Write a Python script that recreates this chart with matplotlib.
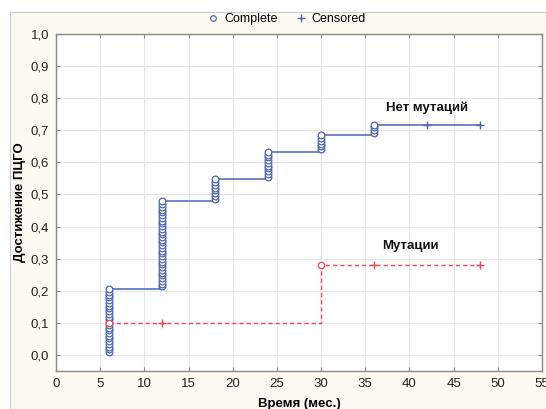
import matplotlib
matplotlib.use('Agg')
import matplotlib.pyplot as plt
import numpy as np
from matplotlib.patches import Rectangle
from matplotlib.lines import Line2D

plt.rcParams['font.family'] = ['Liberation Sans', 'DejaVu Sans']

# ---------------- data ----------------
# group without mutations: cohort size, event times and tied-event counts
nomut_n = 117
nomut_event_times = [6, 12, 18, 24, 30, 36]
nomut_event_counts = [24, 32, 8, 10, 6, 4]
nomut_censor_times = [42, 48]
nomut_label = "Нет мутаций"

# group with mutations: event times, cumulative levels, censored times
mut_event_times = [6, 30]
mut_levels = [0.10, 0.28]
mut_censor_times = [12, 36, 48]
mut_label = "Мутации"

x_ticks = list(range(0, 56, 5))
y_ticks = [round(v * 0.1, 1) for v in range(0, 11)]
x_label = "Время (мес.)"
y_label = "Достижение ПЦГО"
legend_labels = ["Complete", "Censored"]

# --------------- style ----------------
blue = '#4A64B2'
red = '#EE4650'
W, H = 546, 409
fig = plt.figure(figsize=(W / 100, H / 100), dpi=100, facecolor='white')

# cream panel
panel = Rectangle((10 / W, 0), 1 - 10 / W, 1 - 12 / H, transform=fig.transFigure,
                  facecolor='#FEFAF1', edgecolor='#C8CCD6', linewidth=0.8, zorder=-10)
fig.patches.append(panel)

ax = fig.add_axes([56 / W, (H - 371) / H, (542 - 56) / W, (371 - 34) / H])
ax.set_facecolor('white')
ax.set_xlim(0, 55)
ax.set_ylim(-0.05, 1.0)
ax.set_xticks(x_ticks)
ax.set_yticks(y_ticks)
ax.set_yticklabels([f"{v:.1f}".replace('.', ',') for v in y_ticks])
ax.grid(True, color='#E6E6E6', linewidth=0.8)
ax.set_axisbelow(True)
for s in ax.spines.values():
    s.set_color('#8A8A8A')
    s.set_linewidth(1.0)
ax.tick_params(direction='in', length=3, color='#8A8A8A', labelsize=9.5,
               top=True, right=True, labelcolor='#222222', pad=5)

# ---- group without mutations ----
cum = np.cumsum(nomut_event_counts)
nomut_levels = cum / nomut_n
step_x = nomut_event_times + [max(nomut_censor_times)]
step_y = list(nomut_levels) + [nomut_levels[-1]]
ax.step(step_x, step_y, where='post', color=blue, linewidth=1.1, zorder=3)
prev = 0
for t, d in zip(nomut_event_times, nomut_event_counts):
    ys = [(prev + k) / nomut_n for k in range(1, d + 1)]
    ax.plot([t] * d, ys, linestyle='none', marker='o', markersize=4.8,
            markerfacecolor='white', markeredgecolor=blue, markeredgewidth=0.9, zorder=4)
    prev += d
idx = np.searchsorted(nomut_event_times, nomut_censor_times, side='right') - 1
ax.plot(nomut_censor_times, nomut_levels[idx], linestyle='none', marker='+',
        markersize=6, color=blue, markeredgewidth=1.0, zorder=4)

# ---- group with mutations ----
mstep_x = mut_event_times + [max(mut_censor_times)]
mstep_y = mut_levels + [mut_levels[-1]]
ax.step(mstep_x, mstep_y, where='post', color=red, linewidth=1.0,
        dashes=(3, 2.2), zorder=5)
ax.plot(mut_event_times, mut_levels, linestyle='none', marker='o', markersize=4.6,
        markerfacecolor='white', markeredgecolor=red, markeredgewidth=0.9, zorder=6)
midx = np.searchsorted(mut_event_times, mut_censor_times, side='right') - 1
ax.plot(mut_censor_times, np.array(mut_levels)[midx], linestyle='none', marker='+',
        markersize=6, color=red, markeredgewidth=1.0, zorder=6)

# annotations
ax.text(42, 0.77, nomut_label, ha='center', va='center', fontsize=9.5,
        fontweight='bold', color='#111111')
ax.text(40.1, 0.34, mut_label, ha='center', va='center', fontsize=9.5,
        fontweight='bold', color='#111111')

ax.set_xlabel(x_label, fontsize=9.5, fontweight='bold', labelpad=6)
ax.set_ylabel(y_label, fontsize=9.5, fontweight='bold')
ax.yaxis.set_label_coords(-(56 - 26) / (542 - 56), 0.5)

# legend
handles = [Line2D([], [], linestyle='none', marker='o', markersize=4,
                  markerfacecolor='white', markeredgecolor=blue, markeredgewidth=0.9),
           Line2D([], [], linestyle='none', marker='+', markersize=6,
                  color=blue, markeredgewidth=1.0)]
fig.legend(handles, legend_labels, loc='center', bbox_to_anchor=(286 / W, 1 - 19 / H),
           ncol=2, frameon=False, fontsize=9, handletextpad=0.3,
           columnspacing=1.2, handlelength=1.2)

fig.savefig('out.png', dpi=100, facecolor=fig.get_facecolor())
